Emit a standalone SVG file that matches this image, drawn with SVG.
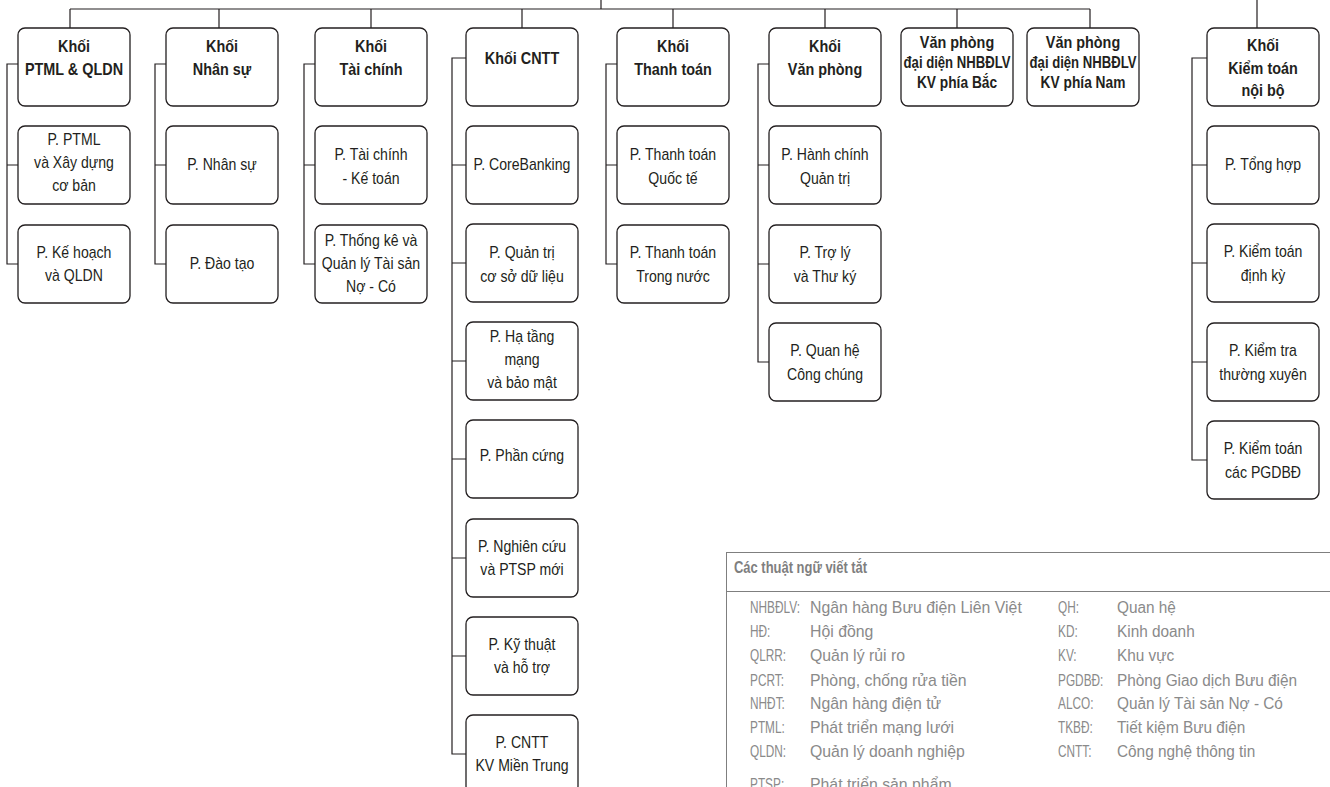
<svg xmlns="http://www.w3.org/2000/svg" width="1330" height="787" viewBox="0 0 1330 787">
<style>
.box{fill:#fff;stroke:#231f20;stroke-width:1.3}
.conn path{stroke:#231f20;stroke-width:1.2;fill:none}
.h{font-family:"Liberation Sans",Arial,sans-serif;font-weight:bold;font-size:16px;fill:#231f20;text-anchor:middle}
.t{font-family:"Liberation Sans",Arial,sans-serif;font-size:16px;fill:#231f20;text-anchor:middle}
.lg{font-family:"Liberation Sans",Arial,sans-serif;font-size:16px;fill:#8a8a8a}
.lgt{font-family:"Liberation Sans",Arial,sans-serif;font-size:16px;font-weight:bold;fill:#7f7f7f}
.lgb{fill:#fff;stroke:#7f7f7f;stroke-width:1}
</style>
<rect width="1330" height="787" fill="#fff"/>
<g id="connectors" class="conn">
<path d="M601,0V9 M70,9H1090 M70,9V28 M219,9V28 M371,9V28 M522,9V28 M673,9V28 M825,9V28 M957,9V28 M1090,9V28 M1257,0V28"/>
<path d="M18,64H7V264H18 M7,165H18"/>
<path d="M166,64H155V264H166 M155,165H166"/>
<path d="M315,64H304V264H315 M304,165H315"/>
<path d="M466,58H452V754H466 M452,165H466 M452,263H466 M452,361H466 M452,459H466 M452,558H466 M452,656H466"/>
<path d="M617,64H606V264H617 M606,165H617"/>
<path d="M769,64H758V362H769 M758,165H769 M758,264H769"/>
<path d="M1207,58H1192V460H1207 M1192,165H1207 M1192,263H1207 M1192,362H1207"/>
</g>
<g id="khoi-ptml"><rect class="box" x="18" y="28" width="112" height="78" rx="7"/><text class="h" transform="translate(74 0) scale(0.9 1)"><tspan x="0" y="52">Khối</tspan><tspan x="0" y="75">PTML &amp; QLDN</tspan></text></g>
<g id="khoi-nhansu"><rect class="box" x="166" y="28" width="112" height="78" rx="7"/><text class="h" transform="translate(222 0) scale(0.9 1)"><tspan x="0" y="52">Khối</tspan><tspan x="0" y="75">Nhân sự</tspan></text></g>
<g id="khoi-taichinh"><rect class="box" x="315" y="28" width="112" height="78" rx="7"/><text class="h" transform="translate(371 0) scale(0.9 1)"><tspan x="0" y="52">Khối</tspan><tspan x="0" y="75">Tài chính</tspan></text></g>
<g id="khoi-cntt"><rect class="box" x="466" y="28" width="112" height="78" rx="7"/><text class="h" transform="translate(522 0) scale(0.9 1)"><tspan x="0" y="64">Khối CNTT</tspan></text></g>
<g id="khoi-thanhtoan"><rect class="box" x="617" y="28" width="112" height="78" rx="7"/><text class="h" transform="translate(673 0) scale(0.9 1)"><tspan x="0" y="52">Khối</tspan><tspan x="0" y="75">Thanh toán</tspan></text></g>
<g id="khoi-vanphong"><rect class="box" x="769" y="28" width="112" height="78" rx="7"/><text class="h" transform="translate(825 0) scale(0.9 1)"><tspan x="0" y="52">Khối</tspan><tspan x="0" y="75">Văn phòng</tspan></text></g>
<g id="vp-bac"><rect class="box" x="901" y="28" width="112" height="78" rx="7"/><text class="h" transform="translate(957 0) scale(0.9 1)"><tspan x="0" y="48">Văn phòng</tspan></text><text class="h" transform="translate(957 0) scale(0.82 1)"><tspan x="0" y="68">đại diện NHBĐLV</tspan></text><text class="h" transform="translate(957 0) scale(0.86 1)"><tspan x="0" y="88">KV phía Bắc</tspan></text></g>
<g id="vp-nam"><rect class="box" x="1027" y="28" width="112" height="78" rx="7"/><text class="h" transform="translate(1083 0) scale(0.9 1)"><tspan x="0" y="48">Văn phòng</tspan></text><text class="h" transform="translate(1083 0) scale(0.82 1)"><tspan x="0" y="68">đại diện NHBĐLV</tspan></text><text class="h" transform="translate(1083 0) scale(0.86 1)"><tspan x="0" y="88">KV phía Nam</tspan></text></g>
<g id="khoi-kiemtoan"><rect class="box" x="1207" y="28" width="112" height="78" rx="7"/><text class="h" transform="translate(1263 0) scale(0.9 1)"><tspan x="0" y="51">Khối</tspan><tspan x="0" y="74">Kiểm toán</tspan><tspan x="0" y="96">nội bộ</tspan></text></g>

<g id="p-ptml"><rect class="box" x="18" y="126" width="112" height="78" rx="7"/><text class="t" transform="translate(74 0) scale(0.88 1)"><tspan x="0" y="145">P. PTML</tspan><tspan x="0" y="168">và Xây dựng</tspan><tspan x="0" y="191">cơ bản</tspan></text></g>
<g id="p-kehoach"><rect class="box" x="18" y="225" width="112" height="78" rx="7"/><text class="t" transform="translate(74 0) scale(0.88 1)"><tspan x="0" y="258">P. Kế hoạch</tspan><tspan x="0" y="281">và QLDN</tspan></text></g>
<g id="p-nhansu"><rect class="box" x="166" y="126" width="112" height="78" rx="7"/><text class="t" transform="translate(222 0) scale(0.88 1)"><tspan x="0" y="170">P. Nhân sự</tspan></text></g>
<g id="p-daotao"><rect class="box" x="166" y="225" width="112" height="78" rx="7"/><text class="t" transform="translate(222 0) scale(0.88 1)"><tspan x="0" y="269">P. Đào tạo</tspan></text></g>
<g id="p-taichinh"><rect class="box" x="315" y="126" width="112" height="78" rx="7"/><text class="t" transform="translate(371 0) scale(0.88 1)"><tspan x="0" y="160">P. Tài chính</tspan><tspan x="0" y="184">- Kế toán</tspan></text></g>
<g id="p-thongke"><rect class="box" x="315" y="225" width="112" height="78" rx="7"/><text class="t" transform="translate(371 0) scale(0.88 1)"><tspan x="0" y="246">P. Thống kê và</tspan><tspan x="0" y="269">Quản lý Tài sản</tspan><tspan x="0" y="292">Nợ - Có</tspan></text></g>

<g id="p-corebanking"><rect class="box" x="466" y="126" width="112" height="78" rx="7"/><text class="t" transform="translate(522 0) scale(0.88 1)"><tspan x="0" y="170">P. CoreBanking</tspan></text></g>
<g id="p-quantricsdl"><rect class="box" x="466" y="224" width="112" height="78" rx="7"/><text class="t" transform="translate(522 0) scale(0.88 1)"><tspan x="0" y="258">P. Quản trị</tspan><tspan x="0" y="282">cơ sở dữ liệu</tspan></text></g>
<g id="p-hatang"><rect class="box" x="466" y="322" width="112" height="78" rx="7"/><text class="t" transform="translate(522 0) scale(0.88 1)"><tspan x="0" y="342">P. Hạ tầng</tspan><tspan x="0" y="365">mạng</tspan><tspan x="0" y="388">và bảo mật</tspan></text></g>
<g id="p-phancung"><rect class="box" x="466" y="420" width="112" height="78" rx="7"/><text class="t" transform="translate(522 0) scale(0.88 1)"><tspan x="0" y="461">P. Phần cứng</tspan></text></g>
<g id="p-nghiencuu"><rect class="box" x="466" y="519" width="112" height="78" rx="7"/><text class="t" transform="translate(522 0) scale(0.88 1)"><tspan x="0" y="552">P. Nghiên cứu</tspan><tspan x="0" y="575">và PTSP mới</tspan></text></g>
<g id="p-kythuat"><rect class="box" x="466" y="617" width="112" height="78" rx="7"/><text class="t" transform="translate(522 0) scale(0.88 1)"><tspan x="0" y="650">P. Kỹ thuật</tspan><tspan x="0" y="673">và hỗ trợ</tspan></text></g>
<g id="p-cntt-mt"><rect class="box" x="466" y="715" width="112" height="78" rx="7"/><text class="t" transform="translate(522 0) scale(0.88 1)"><tspan x="0" y="748">P. CNTT</tspan><tspan x="0" y="771">KV Miền Trung</tspan></text></g>

<g id="p-tt-quocte"><rect class="box" x="617" y="126" width="112" height="78" rx="7"/><text class="t" transform="translate(673 0) scale(0.88 1)"><tspan x="0" y="160">P. Thanh toán</tspan><tspan x="0" y="184">Quốc tế</tspan></text></g>
<g id="p-tt-trongnuoc"><rect class="box" x="617" y="225" width="112" height="78" rx="7"/><text class="t" transform="translate(673 0) scale(0.88 1)"><tspan x="0" y="258">P. Thanh toán</tspan><tspan x="0" y="282">Trong nước</tspan></text></g>

<g id="p-hanhchinh"><rect class="box" x="769" y="126" width="112" height="78" rx="7"/><text class="t" transform="translate(825 0) scale(0.88 1)"><tspan x="0" y="160">P. Hành chính</tspan><tspan x="0" y="184">Quản trị</tspan></text></g>
<g id="p-trolythuky"><rect class="box" x="769" y="225" width="112" height="78" rx="7"/><text class="t" transform="translate(825 0) scale(0.88 1)"><tspan x="0" y="258">P. Trợ lý</tspan><tspan x="0" y="282">và Thư ký</tspan></text></g>
<g id="p-quanhe"><rect class="box" x="769" y="323" width="112" height="78" rx="7"/><text class="t" transform="translate(825 0) scale(0.88 1)"><tspan x="0" y="356">P. Quan hệ</tspan><tspan x="0" y="380">Công chúng</tspan></text></g>

<g id="p-tonghop"><rect class="box" x="1207" y="126" width="112" height="78" rx="7"/><text class="t" transform="translate(1263 0) scale(0.88 1)"><tspan x="0" y="170">P. Tổng hợp</tspan></text></g>
<g id="p-kt-dinhky"><rect class="box" x="1207" y="224" width="112" height="78" rx="7"/><text class="t" transform="translate(1263 0) scale(0.88 1)"><tspan x="0" y="257">P. Kiểm toán</tspan><tspan x="0" y="281">định kỳ</tspan></text></g>
<g id="p-kiemtra"><rect class="box" x="1207" y="323" width="112" height="78" rx="7"/><text class="t" transform="translate(1263 0) scale(0.88 1)"><tspan x="0" y="356">P. Kiểm tra</tspan><tspan x="0" y="380">thường xuyên</tspan></text></g>
<g id="p-kt-pgdbd"><rect class="box" x="1207" y="421" width="112" height="78" rx="7"/><text class="t" transform="translate(1263 0) scale(0.88 1)"><tspan x="0" y="454">P. Kiểm toán</tspan><tspan x="0" y="478">các PGDBĐ</tspan></text></g>

<g id="legend">
<rect class="lgb" x="726.5" y="552.5" width="640" height="260"/>
<path d="M726.5,591.5H1330" stroke="#7f7f7f" stroke-width="1" fill="none"/>
<text class="lgt" transform="translate(734 0) scale(0.81 1)" x="0" y="573">Các thuật ngữ viết tắt</text>
<text class="lg" transform="translate(750 0) scale(0.74 1)"><tspan x="0" y="613">NHBĐLV:</tspan><tspan x="0" y="637">HĐ:</tspan><tspan x="0" y="661">QLRR:</tspan><tspan x="0" y="686">PCRT:</tspan><tspan x="0" y="709">NHĐT:</tspan><tspan x="0" y="733">PTML:</tspan><tspan x="0" y="757">QLDN:</tspan><tspan x="0" y="790">PTSP:</tspan></text>
<text class="lg" transform="translate(810 0) scale(0.99 1)"><tspan x="0" y="613">Ngân hàng Bưu điện Liên Việt</tspan><tspan x="0" y="637">Hội đồng</tspan><tspan x="0" y="661">Quản lý rủi ro</tspan><tspan x="0" y="686">Phòng, chống rửa tiền</tspan><tspan x="0" y="709">Ngân hàng điện tử</tspan><tspan x="0" y="733">Phát triển mạng lưới</tspan><tspan x="0" y="757">Quản lý doanh nghiệp</tspan><tspan x="0" y="790">Phát triển sản phẩm</tspan></text>
<text class="lg" transform="translate(1058 0) scale(0.74 1)"><tspan x="0" y="613">QH:</tspan><tspan x="0" y="637">KD:</tspan><tspan x="0" y="661">KV:</tspan><tspan x="0" y="686">PGDBĐ:</tspan><tspan x="0" y="709">ALCO:</tspan><tspan x="0" y="733">TKBĐ:</tspan><tspan x="0" y="757">CNTT:</tspan></text>
<text class="lg" transform="translate(1117 0) scale(0.96 1)"><tspan x="0" y="613">Quan hệ</tspan><tspan x="0" y="637">Kinh doanh</tspan><tspan x="0" y="661">Khu vực</tspan><tspan x="0" y="686">Phòng Giao dịch Bưu điện</tspan><tspan x="0" y="709">Quản lý Tài sản Nợ - Có</tspan><tspan x="0" y="733">Tiết kiệm Bưu điện</tspan><tspan x="0" y="757">Công nghệ thông tin</tspan></text>
</g>
</svg>
